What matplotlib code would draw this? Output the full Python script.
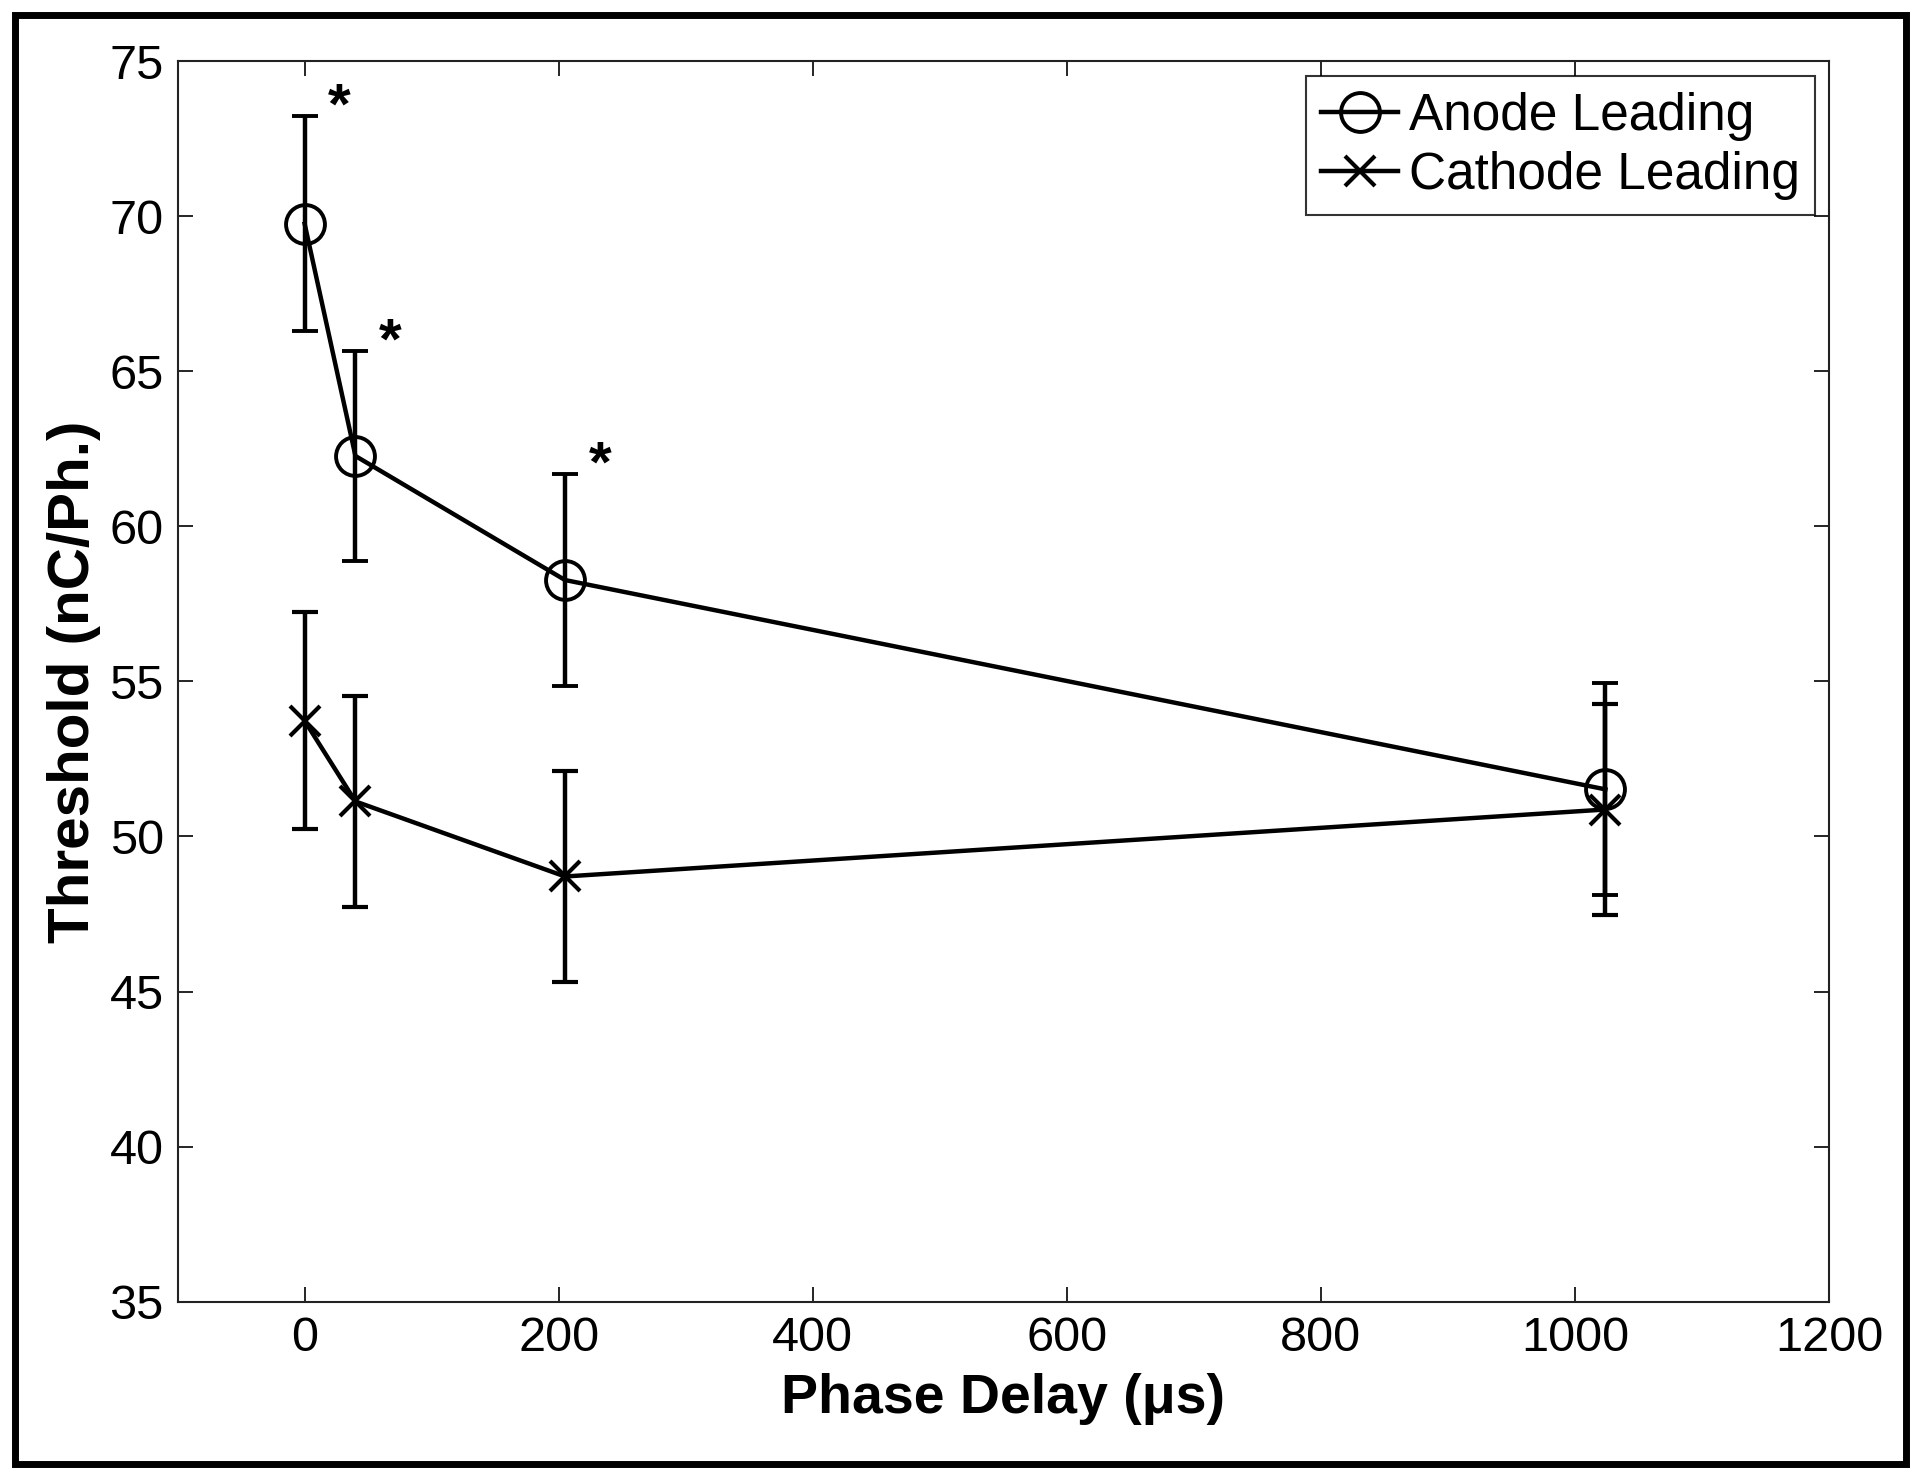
import matplotlib
matplotlib.use("Agg")
import matplotlib.pyplot as plt
from matplotlib.lines import Line2D
from matplotlib.patches import Rectangle

plt.rcParams["font.family"] = ["Liberation Sans", "DejaVu Sans"]

# phase delay (us) and thresholds (nC/phase), mean +/- error
delays = [0, 40, 205, 1024]
anode_mean = [69.76, 62.27, 58.27, 51.52]
anode_err = [3.47, 3.37, 3.41, 3.42]
cathode_mean = [53.73, 51.13, 48.71, 50.87]
cathode_err = [3.50, 3.40, 3.41, 3.39]
# points with a significant difference (index into delays)
signif = [0, 1, 2]

xticks = [0, 200, 400, 600, 800, 1000, 1200]
yticks = [35, 40, 45, 50, 55, 60, 65, 70, 75]

anode_style = dict(color="black", lw=3.2, marker="o", ms=28, mfc="none", mew=2.8)
cathode_style = dict(color="black", lw=3.2, marker="x", ms=21, mew=3)

fig = plt.figure(figsize=(19.2, 14.83), dpi=100)
ax = fig.add_axes([0.0925, 0.1223, 0.8601, 0.8364])

ax.errorbar(delays, anode_mean, yerr=anode_err, capsize=9.5,
            capthick=3.2, elinewidth=3.2, **anode_style)
ax.errorbar(delays, cathode_mean, yerr=cathode_err, capsize=9.5,
            capthick=3.2, elinewidth=3.2, **cathode_style)

for i in signif:
    ax.annotate("*", xy=(delays[i], anode_mean[i] + anode_err[i]),
                xytext=(25, -14), textcoords="offset points",
                ha="center", va="bottom", fontsize=42, fontweight="bold")

ax.set_xlim(-100, 1200)
ax.set_ylim(35, 75)
ax.set_xticks(xticks)
ax.set_yticks(yticks)
ax.tick_params(direction="in", length=11, width=1.2, top=True, right=True,
               labelsize=35, pad=10)
for s in ax.spines.values():
    s.set_linewidth(1.5)
    s.set_color("#222222")

ax.set_xlabel("Phase Delay (\u03bcs)", fontsize=40, fontweight="bold",
              labelpad=9)
ax.set_ylabel("Threshold (nC/Ph.)", fontsize=42, fontweight="bold",
              labelpad=6)

handles = [Line2D([], [], **anode_style), Line2D([], [], **cathode_style)]
leg = ax.legend(handles, ["Anode Leading", "Cathode Leading"],
                loc="upper right", bbox_to_anchor=(0.9915, 0.988),
                borderaxespad=0, fontsize=37, fancybox=False,
                handlelength=1.5, handletextpad=0.2, borderpad=0.3,
                labelspacing=0.2, numpoints=1)
leg.get_frame().set_edgecolor("black")
leg.get_frame().set_linewidth(1.5)

# outer frame around the figure
fig.patches.append(Rectangle((0.0076, 0.0125), 0.985, 0.9776,
                             transform=fig.transFigure, fill=False,
                             edgecolor="black", linewidth=5))

fig.savefig("out.png", dpi=100)
